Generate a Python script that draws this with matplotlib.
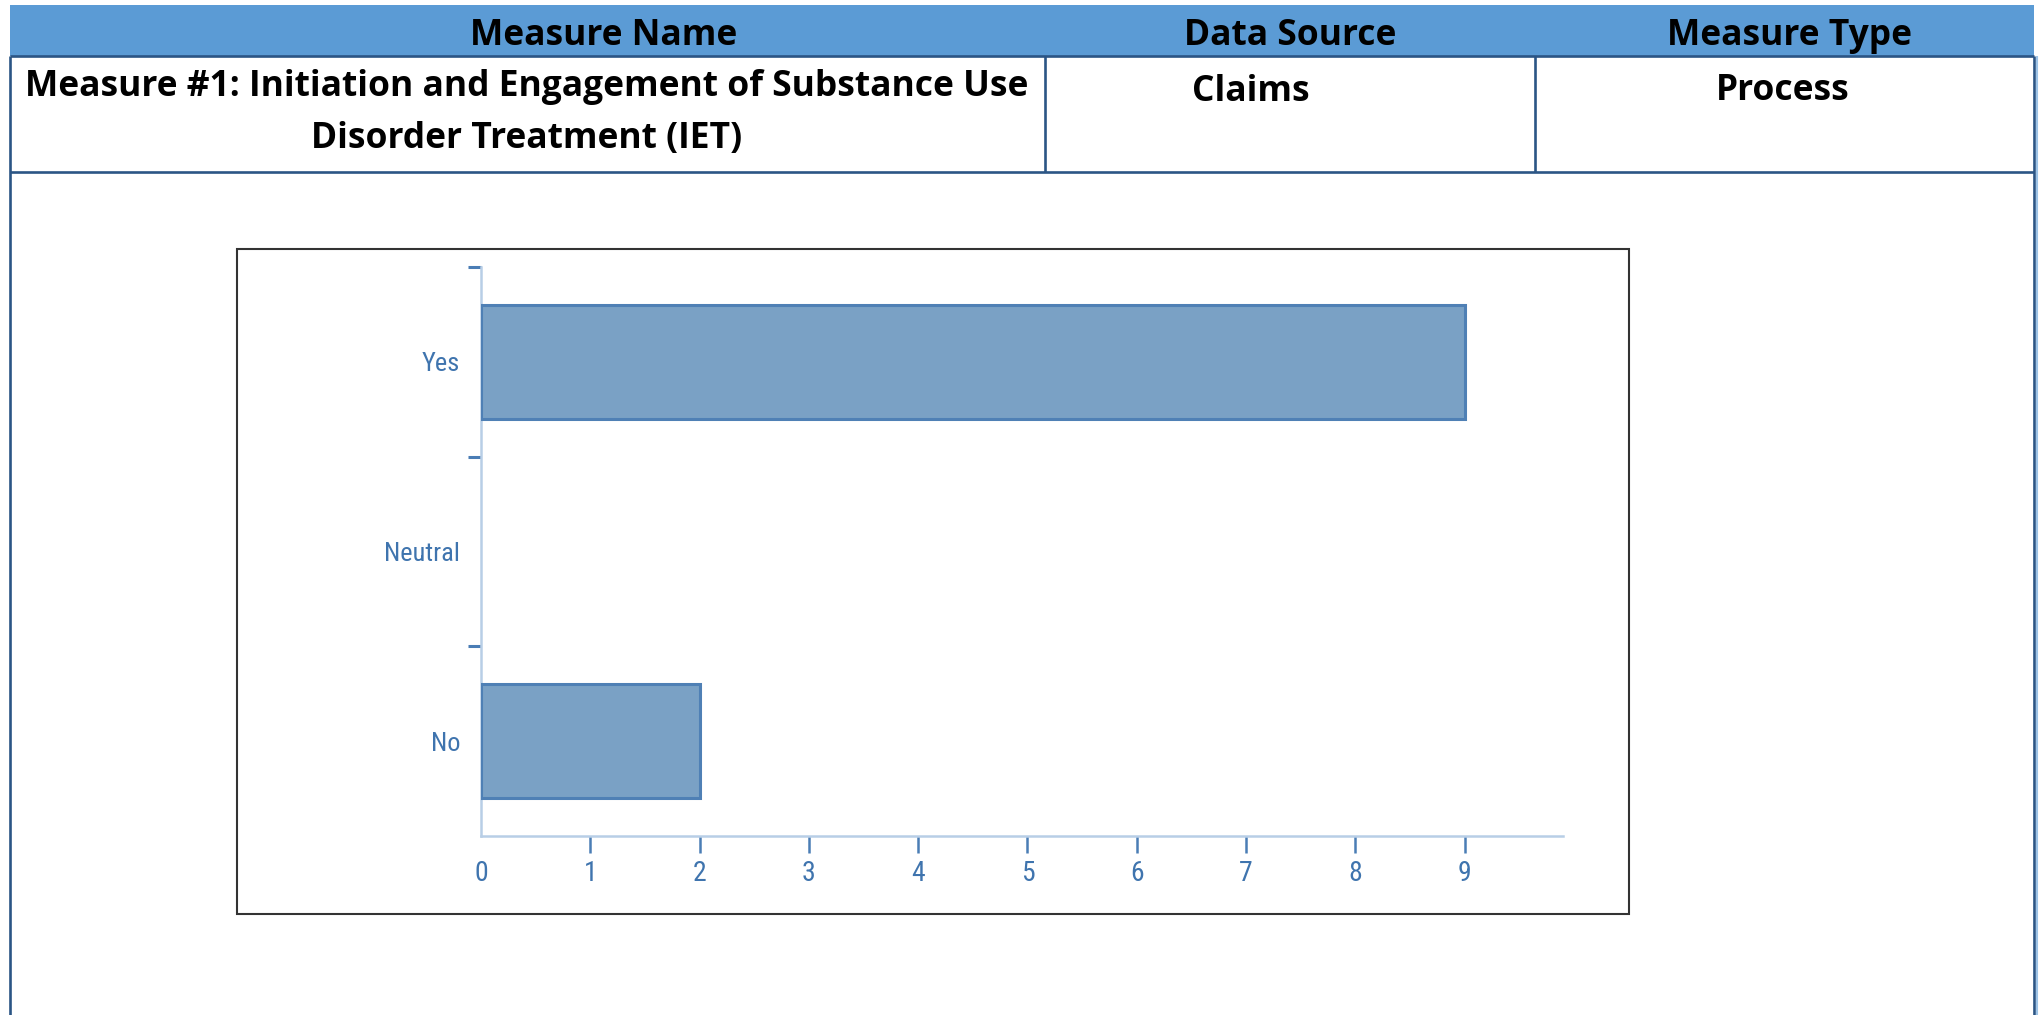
import matplotlib
matplotlib.use('Agg')
import matplotlib.pyplot as plt
from matplotlib.lines import Line2D
from matplotlib.patches import Rectangle

# ---- data ----
categories = ['No', 'Neutral', 'Yes']
counts = [2, 0, 9]
x_ticks = [0, 1, 2, 3, 4, 5, 6, 7, 8, 9]
headers = ['Measure Name', 'Data Source', 'Measure Type']
measure_lines = ['Measure #1: Initiation and Engagement of Substance Use',
                 'Disorder Treatment (IET)']
data_source = 'Claims'
measure_type = 'Process'

W, H = 2044, 1015
fig = plt.figure(figsize=(W / 100, H / 100), dpi=100)
fig.patch.set_facecolor('white')
renderer = fig.canvas.get_renderer()


def fx(x):
    return x / W


def fy(y):
    return 1 - y / H


NAVY = '#2B5585'
LIGHT = '#9DC3E6'
HEAD_BLUE = '#5B9BD5'


def line(xs, ys, color=NAVY, lw=1.9, z=5):
    fig.add_artist(Line2D([fx(v) for v in xs], [fy(v) for v in ys],
                          color=color, lw=lw, transform=fig.transFigure,
                          zorder=z, solid_capstyle='butt'))


# header band
fig.add_artist(Rectangle((fx(10), fy(56)), fx(2034) - fx(10), fy(5) - fy(56),
                         transform=fig.transFigure, facecolor=HEAD_BLUE,
                         edgecolor='none', zorder=1))
# table borders
line([10, 2034], [56, 56])
line([10, 2034], [172, 172])
line([10, 10], [56, 1015])
line([2034, 2034], [56, 1015])
line([2037, 2037], [56, 1015], color=LIGHT, lw=1.5)
line([1045, 1045], [56, 172])
line([1535, 1535], [56, 172])

tkw = dict(family=['Open Sans', 'DejaVu Sans'], fontweight='bold',
           color='black', ha='center', va='baseline', zorder=6)

# choose one font size so the long first line fills its cell like the original
probe = fig.text(0, 0, measure_lines[0], fontsize=20, **tkw)
FS = 20 * 1005 / probe.get_window_extent(renderer).width
probe.remove()


def put(x, y, s):
    return fig.text(fx(x), fy(y), s, fontsize=FS, **tkw)


put(604, 45, headers[0])
put(1290, 45, headers[1])
put(1789, 45, headers[2])
put(527, 96, measure_lines[0])
put(527, 148, measure_lines[1])
put(1251, 101, data_source)
put(1783, 100, measure_type)

# inner chart box
fig.add_artist(Rectangle((fx(237), fy(914)), fx(1629) - fx(237), fy(249) - fy(914),
                         transform=fig.transFigure, fill=False,
                         edgecolor='#333333', lw=1.5, zorder=2))

# ---- chart ----
ax = fig.add_axes([fx(481), fy(836), fx(1563) - fx(481), fy(267) - fy(836)])
ax.set_facecolor('none')
pos = list(range(len(categories)))
bars = ax.barh(pos, counts, height=0.6, color='#7AA1C5', edgecolor='#4F80B5',
               linewidth=2.2, zorder=3)
for b, v in zip(bars, counts):
    if v == 0:
        b.set_linewidth(0)
ax.set_xlim(0, 9.9)
ax.set_ylim(-0.5, 2.5)

for s in ['top', 'right']:
    ax.spines[s].set_visible(False)
for s in ['left', 'bottom']:
    ax.spines[s].set_color('#B8CEE6')
    ax.spines[s].set_linewidth(1.8)

lab_font = ['Liberation Sans Narrow', 'Roboto Condensed', 'DejaVu Sans']
TICKC = '#4A7DB5'
LABC = '#3F74AE'
ax.set_yticks(pos)
ax.set_yticklabels(categories, fontsize=19, family=lab_font, color=LABC,
                   fontstretch='condensed')
ax.tick_params(axis='y', which='major', length=0, pad=15)
ax.set_yticks([0.5, 1.5, 2.5], minor=True)
ax.tick_params(axis='y', which='minor', length=9.5, width=2.2, color=TICKC)

ax.set_xticks(x_ticks)
ax.set_xticklabels([str(v) for v in x_ticks], fontsize=20, family=lab_font,
                   color=LABC, fontstretch='condensed')
ax.tick_params(axis='x', which='major', length=12, width=1.8, color=TICKC, pad=5)
ax.xaxis.get_major_ticks()[0].tick1line.set_visible(False)

fig.savefig('out.png', dpi=100, facecolor='white')
